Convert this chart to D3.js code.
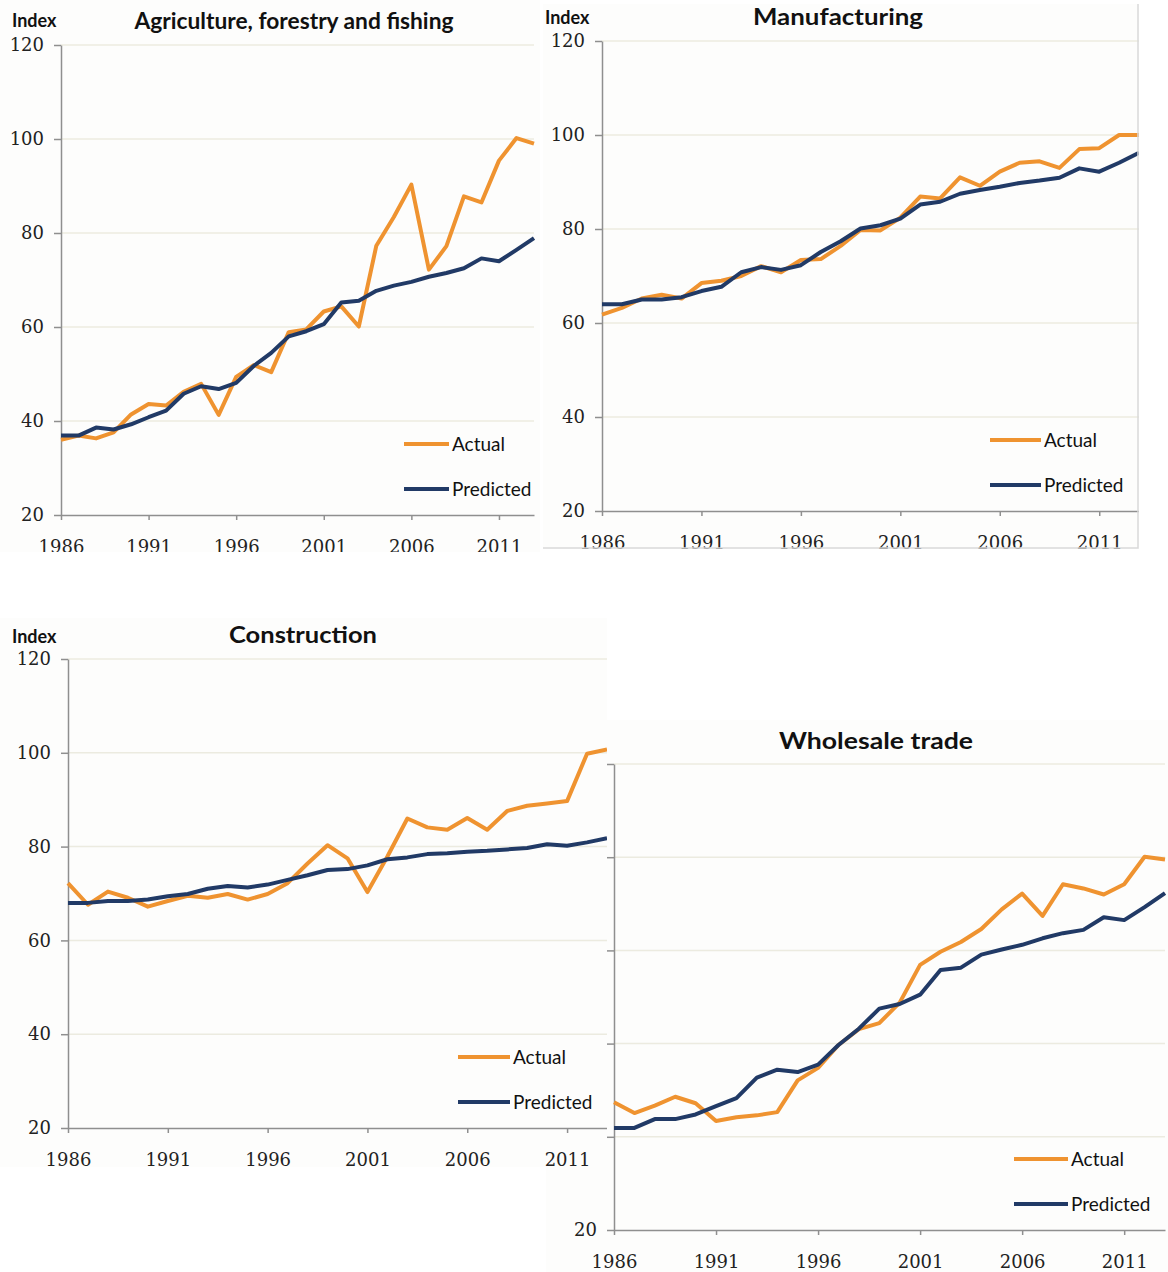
<!DOCTYPE html>
<html>
<head>
<meta charset="utf-8">
<script src="https://cdn.jsdelivr.net/npm/d3@7/dist/d3.min.js"></script>
<style>
  body { margin: 0; background: #fff; }
  svg { display: block; }
</style>
</head>
<body>
<svg id="chart" width="1168" height="1272"></svg>
<script>
// years on the x axis
var years = [1986, 1987, 1988, 1989, 1990, 1991, 1992, 1993, 1994, 1995, 1996, 1997, 1998, 1999,
             2000, 2001, 2002, 2003, 2004, 2005, 2006, 2007, 2008, 2009, 2010, 2011, 2012, 2013];
var yearTicks = [1986, 1991, 1996, 2001, 2006, 2011];
var indexTicks = [20, 40, 60, 80, 100, 120];
var seriesNames = ['Actual', 'Predicted'];

// Agriculture, forestry and fishing
var agriActual = [36.0, 36.9, 36.3, 37.6, 41.4, 43.6, 43.3, 46.2, 47.9, 41.3, 49.4, 51.9, 50.4, 58.9,
                  59.5, 63.3, 64.4, 60.1, 77.3, 83.4, 90.3, 72.2, 77.2, 87.8, 86.5, 95.4, 100.2, 99.0];
var agriPredicted = [36.9, 36.9, 38.6, 38.2, 39.3, 40.8, 42.2, 45.8, 47.4, 46.8, 48.1, 51.7, 54.5, 58.0,
                     59.1, 60.6, 65.2, 65.6, 67.7, 68.8, 69.6, 70.7, 71.5, 72.5, 74.6, 74.0, 76.4, 78.9];

// Manufacturing
var mfgActual = [61.8, 63.2, 65.2, 66.0, 65.2, 68.5, 69.0, 70.0, 72.1, 70.8, 73.4, 73.6, 76.4, 79.8,
                 79.7, 82.4, 86.9, 86.5, 91.0, 89.2, 92.2, 94.1, 94.4, 93.0, 97.0, 97.2, 100.0, 100.0];
var mfgPredicted = [64.0, 64.0, 65.0, 65.0, 65.5, 66.8, 67.7, 70.8, 71.9, 71.3, 72.3, 75.1, 77.4, 80.1,
                    80.8, 82.2, 85.2, 85.8, 87.5, 88.3, 89.0, 89.8, 90.3, 90.9, 92.9, 92.2, 94.1, 96.2];

// Construction
var consActual = [72.2, 67.6, 70.4, 69.1, 67.2, 68.4, 69.5, 69.1, 69.9, 68.7, 69.9, 72.2, 76.4, 80.3,
                  77.5, 70.3, 77.9, 86.0, 84.1, 83.6, 86.1, 83.6, 87.6, 88.7, 89.2, 89.7, 99.8, 100.7];
var consPredicted = [68.0, 68.0, 68.4, 68.4, 68.7, 69.4, 69.9, 71.0, 71.6, 71.3, 71.9, 72.9, 73.9, 75.0,
                     75.2, 76.0, 77.3, 77.7, 78.4, 78.6, 78.9, 79.1, 79.4, 79.7, 80.5, 80.2, 80.9, 81.8];

// Wholesale trade
var wholeActual = [47.4, 45.1, 46.7, 48.6, 47.2, 43.4, 44.2, 44.6, 45.3, 52.1, 54.8, 59.7, 63.1, 64.4,
                   68.8, 76.9, 79.7, 81.8, 84.6, 88.8, 92.2, 87.4, 94.2, 93.3, 92.0, 94.2, 100.1, 99.5];
var wholePredicted = [41.9, 41.9, 43.8, 43.8, 44.8, 46.6, 48.3, 52.7, 54.4, 53.9, 55.5, 59.7, 63.2, 67.5,
                      68.5, 70.5, 75.8, 76.3, 79.1, 80.2, 81.2, 82.6, 83.7, 84.4, 87.1, 86.5, 89.3, 92.3];

var colors = { Actual: '#ef9330', Predicted: '#213a66' };
var serifFont = "'DejaVu Serif', 'Liberation Serif', serif";
var sansFont = "Lato, 'Open Sans', sans-serif";

// the four panels are pasted screenshots, some overlap; drawn in this order
var panels = [
  { id: 'p1', title: 'Agriculture, forestry and fishing', actual: agriActual, predicted: agriPredicted,
    clip: [0, 0, 540, 552], x0: 61, x1: 534, yb: 515, yt: 45, titleX: 294, titleY: 29, titleW: 319,
    indexX: 12, indexY: 27, legendX: 404, legendLen: 45 },
  { id: 'p2', title: 'Manufacturing', actual: mfgActual, predicted: mfgPredicted,
    clip: [543, 4, 596, 545], x0: 602, x1: 1139, yb: 511, yt: 41, titleX: 838, titleY: 25, titleW: 170,
    indexX: 545, indexY: 24, legendX: 990, legendLen: 51, border: true },
  { id: 'p4', title: 'Wholesale trade', actual: wholeActual, predicted: wholePredicted,
    clip: [546, 720, 622, 552], x0: 614, x1: 1165, yb: 1230, yt: 764, titleX: 876, titleY: 749, titleW: 194,
    indexX: 555, indexY: 748, legendX: 1014, legendLen: 54 },
  { id: 'p3', title: 'Construction', actual: consActual, predicted: consPredicted,
    clip: [0, 618, 607, 549], x0: 68, x1: 607, yb: 1128, yt: 659, titleX: 303, titleY: 643, titleW: 148,
    indexX: 12, indexY: 643, legendX: 458, legendLen: 52 }
];

var svg = d3.select('#chart');
var defs = svg.append('defs');

panels.forEach(function(p) {
  defs.append('clipPath').attr('id', 'clip-' + p.id)
    .append('rect').attr('x', p.clip[0]).attr('y', p.clip[1]).attr('width', p.clip[2]).attr('height', p.clip[3]);

  var g = svg.append('g').attr('clip-path', 'url(#clip-' + p.id + ')');
  g.append('rect').attr('x', p.clip[0]).attr('y', p.clip[1]).attr('width', p.clip[2]).attr('height', p.clip[3])
    .attr('fill', '#fdfdfc');

  var x = d3.scaleLinear().domain([years[0], years[years.length - 1]]).range([p.x0, p.x1]);
  var y = d3.scaleLinear().domain([20, 120]).range([p.yb, p.yt]);

  // gridlines
  g.append('g').selectAll('line').data(indexTicks.slice(1)).enter().append('line')
    .attr('x1', p.x0).attr('x2', p.x1)
    .attr('y1', function(d) { return y(d); }).attr('y2', function(d) { return y(d); })
    .attr('stroke', '#ecebe0').attr('stroke-width', 1.5);

  // y axis
  var yAxis = g.append('g').attr('transform', 'translate(' + p.x0 + ',0)')
    .call(d3.axisLeft(y).tickValues(indexTicks).tickSize(7).tickSizeOuter(0).tickPadding(10).tickFormat(d3.format('d')));
  // x axis
  var xAxis = g.append('g').attr('transform', 'translate(0,' + p.yb + ')')
    .call(d3.axisBottom(x).tickValues(yearTicks).tickSize(5).tickSizeOuter(0).tickFormat(d3.format('d')));
  xAxis.selectAll('text').attr('y', 38).attr('dy', 0);

  [yAxis, xAxis].forEach(function(a) {
    a.select('.domain').attr('stroke', '#8f8f8f').attr('stroke-width', 1.5);
    a.selectAll('.tick line').attr('stroke', '#8f8f8f').attr('stroke-width', 1.5);
    a.selectAll('text').attr('font-family', serifFont).attr('font-size', 18).attr('fill', '#222');
  });

  // data lines
  var line = d3.line()
    .x(function(d, i) { return x(years[i]); })
    .y(function(d) { return y(d); });
  [['Actual', p.actual], ['Predicted', p.predicted]].forEach(function(s) {
    g.append('path').datum(s[1]).attr('d', line)
      .attr('fill', 'none').attr('stroke', colors[s[0]]).attr('stroke-width', 4)
      .attr('stroke-linejoin', 'round');
  });

  // legend
  var leg = g.append('g');
  seriesNames.forEach(function(name, i) {
    var ly = p.yb - 71 + i * 45;
    leg.append('line').attr('x1', p.legendX).attr('x2', p.legendX + p.legendLen).attr('y1', ly).attr('y2', ly)
      .attr('stroke', colors[name]).attr('stroke-width', 4);
    leg.append('text').attr('x', p.legendX + p.legendLen + 3).attr('y', ly + 7).text(name)
      .attr('font-family', sansFont).attr('font-size', 19).attr('fill', '#111');
  });

  // titles
  g.append('text').attr('x', p.titleX).attr('y', p.titleY).attr('text-anchor', 'middle').text(p.title)
    .attr('textLength', p.titleW).attr('lengthAdjust', 'spacingAndGlyphs')
    .attr('font-family', sansFont).attr('font-weight', 'bold').attr('font-size', 23).attr('fill', '#111');
  g.append('text').attr('x', p.indexX).attr('y', p.indexY).text('Index')
    .attr('font-family', sansFont).attr('font-weight', 'bold').attr('font-size', 18).attr('fill', '#111');

  if (p.border) {
    g.append('path')
      .attr('d', 'M' + (p.clip[0] + p.clip[2] - 1) + ',' + p.clip[1] + 'V' + (p.clip[1] + p.clip[3] - 1) + 'H' + p.clip[0])
      .attr('fill', 'none').attr('stroke', '#d9d9d9').attr('stroke-width', 1.5);
  }
});
</script>
</body>
</html>
